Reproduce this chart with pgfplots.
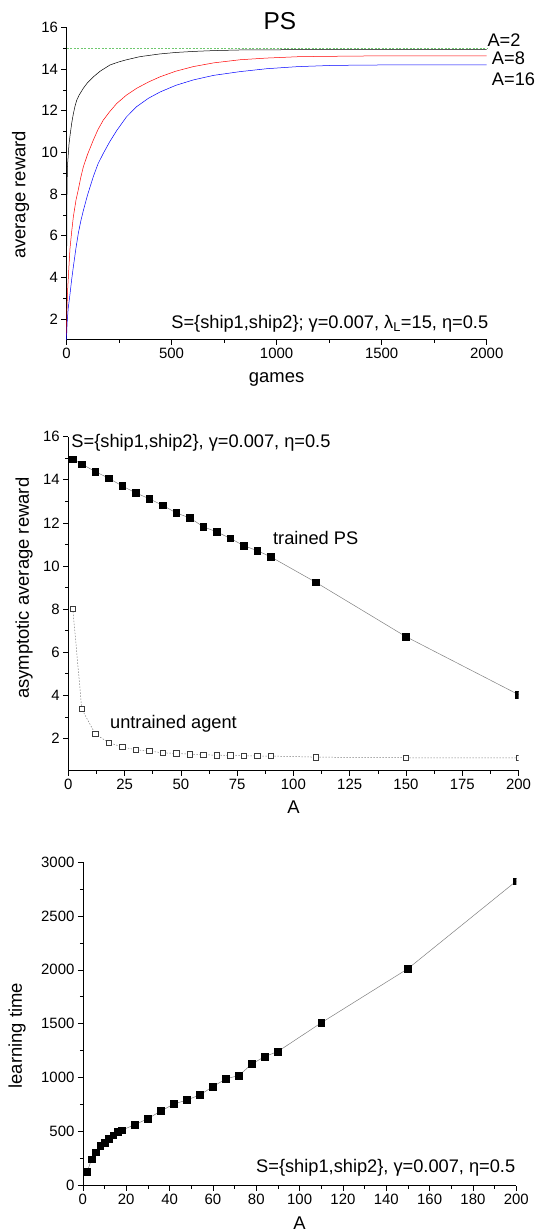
\documentclass[border=0pt]{standalone}
\usepackage{fontspec}
\setmainfont{Liberation Sans}
\usepackage{pgfplots}
\pgfplotsset{compat=1.18}

\definecolor{refgreen}{RGB}{110,200,110}
\definecolor{linegray}{RGB}{128,128,128}
\definecolor{edgegray}{RGB}{60,60,60}

\newcommand\annot{\fontsize{18.3}{22}\selectfont}

\pgfplotsset{
  panel/.style={
    scale only axis,
    anchor=south west,
    axis x line*=bottom, axis y line*=left,
    axis line style={-, line width=0.6bp, black},
    tick align=outside,
    major tick length=5bp, minor tick length=3bp,
    every tick/.append style={black, line width=0.6bp},
    minor tick num=1,
    tick label style={font=\fontsize{15}{18}\selectfont},
    label style={font=\fontsize{18.5}{22}\selectfont},
    scaled ticks=false,
    /pgf/number format/assume math mode=true,
    /pgf/number format/1000 sep={},
  },
}

\begin{document}
\begin{tikzpicture}
\path[use as bounding box] (0,0) rectangle (540bp,1232bp);

% ---------- learning curves ----------
\begin{axis}[panel, at={(66.5bp,892.2bp)}, width=420.2bp, height=312.3bp,
  xmin=0, xmax=2000, ymin=1, ymax=16,
  xtick={0,500,...,2000}, ytick={2,4,...,16},
  xlabel={games}, ylabel={average reward},
  xlabel style={at={(axis description cs:0.5,-0.128)}, anchor=center},
  ylabel style={at={(axis description cs:-0.109,0.464)}, anchor=center},
  clip=false]
\addplot[refgreen, line width=0.5bp, dash pattern=on 2bp off 1.5bp] coordinates {(0,15) (2000,15)};
\addplot[black, line width=0.5bp] coordinates {
 (0,1.0) (1,5.0) (2,7.6) (3,8.6) (5,9.4) (8.7,9.95) (12,10.4) (16.7,10.8)
 (24.7,11.4) (32.5,11.85) (40,12.2) (48.5,12.5) (60,12.75) (80,13.08)
 (100,13.35) (128,13.63) (160,13.9) (207,14.2) (250,14.35) (286,14.45)
 (350,14.6) (445,14.73) (520,14.8) (603,14.85) (700,14.89) (826,14.92)
 (1000,14.93) (1300,14.94) (1600,14.94) (2000,14.94)};
\addplot[red, line width=0.5bp] coordinates {
 (0,1.2) (2,2.4) (5,3.3) (8.7,4.0) (16.7,5.4) (24.7,6.2) (32.5,6.9) (45,7.7)
 (56,8.2) (68,8.8) (80,9.3) (100,9.9) (128,10.6) (150,11.1) (175,11.55)
 (205,11.95) (239,12.35) (285,12.75) (334,13.08) (390,13.38) (445,13.63)
 (520,13.9) (603,14.12) (700,14.3) (826,14.45) (950,14.53) (1111,14.6)
 (1400,14.63) (1700,14.64) (2000,14.64)};
\addplot[blue, line width=0.5bp] coordinates {
 (0,1.0) (3,1.8) (8,2.5) (16.7,3.2) (24.7,3.9) (32.5,4.5) (45,5.4) (56,6.1)
 (68,6.7) (80,7.2) (100,7.95) (128,8.85) (150,9.45) (175,9.95) (205,10.5)
 (239,11.05) (285,11.7) (334,12.2) (390,12.6) (445,12.9) (520,13.22)
 (603,13.48) (700,13.7) (826,13.88) (953,14.02) (1100,14.12) (1270,14.18)
 (1500,14.2) (2000,14.2)};
\node[anchor=base, inner sep=0, font=\fontsize{24.5}{28}\selectfont] at (axis cs:1016,15.91) {PS};
\node[anchor=west, inner sep=0, font=\annot] at (axis cs:2003,15.41) {A=2};
\node[anchor=west, inner sep=0, font=\annot] at (axis cs:2024,14.52) {A=8};
\node[anchor=west, inner sep=0, font=\annot] at (axis cs:2024,13.5) {A=16};
\node[anchor=base east, inner sep=0, font=\annot] at (axis cs:2008,1.54)
  {S=\{ship1,ship2\}; γ=0.007, λ\textsubscript{L}=15, η=0.5};
\end{axis}

% ---------- asymptotic reward ----------
\begin{axis}[panel, at={(68.3bp,461.3bp)}, width=450.2bp, height=334bp,
  xmin=0, xmax=200, ymin=0.5, ymax=16,
  xtick={0,25,...,200}, ytick={2,4,...,16},
  xlabel={A}, ylabel={asymptotic average reward},
  xlabel style={at={(axis description cs:0.5,-0.108)}, anchor=center},
  ylabel style={at={(axis description cs:-0.098,0.546)}, anchor=center},
  clip mode=individual, clip marker paths=true]
\addplot[linegray, line width=0.5bp, mark=square*,
  mark options={solid, fill=black, draw=black, mark size=3.3bp}] coordinates {
 (2,14.95) (6,14.73) (12,14.38) (18,14.07) (24,13.71) (30,13.39) (36,13.12)
 (42,12.81) (48,12.46) (54,12.23) (60,11.82) (66,11.58) (72,11.28) (78,10.94)
 (84,10.71) (90,10.42) (110,9.24) (150,6.72) (200,4.03)};
\addplot[linegray, line width=0.5bp, dash pattern=on 1.5bp off 1.5bp, mark=square*,
  mark options={solid, fill=white, draw=edgegray, line width=0.6bp, mark size=2.7bp}] coordinates {
 (2,8.02) (6,3.36) (12,2.20) (18,1.80) (24,1.60) (30,1.47) (36,1.41) (42,1.33)
 (48,1.30) (54,1.27) (60,1.24) (66,1.22) (72,1.21) (78,1.19) (84,1.18)
 (90,1.18) (110,1.13) (150,1.10) (200,1.09)};
\node[anchor=base west, inner sep=0, font=\annot] at (axis cs:1.33,15.51)
  {S=\{ship1,ship2\}, γ=0.007, η=0.5};
\node[anchor=base west, inner sep=0, font=\annot] at (axis cs:90.9,11.02) {trained PS};
\node[anchor=base west, inner sep=0, font=\annot] at (axis cs:18.5,2.47) {untrained agent};
\end{axis}

% ---------- learning time ----------
\begin{axis}[panel, at={(82.9bp,46.5bp)}, width=433.4bp, height=323.5bp,
  xmin=0, xmax=200, ymin=0, ymax=3000,
  xtick={0,20,...,200}, ytick={0,500,...,3000},
  xlabel={A}, ylabel={learning time},
  xlabel style={at={(axis description cs:0.5,-0.116)}, anchor=center},
  ylabel style={at={(axis description cs:-0.152,0.463)}, anchor=center},
  clip mode=individual, clip marker paths=true]
\addplot[linegray, line width=0.5bp, mark=square*,
  mark options={solid, fill=black, draw=black, mark size=3.3bp}] coordinates {
 (2,130) (4,242) (6,310) (8,366) (10,397) (12,434) (14,465) (16,496) (18,514)
 (24,564) (30,620) (36,691) (42,756) (48,793) (54,840) (60,917) (66,989)
 (72,1020) (78,1128) (84,1196) (90,1243) (110,1509) (150,2011) (200,2823)};
\node[anchor=base east, inner sep=0, font=\annot] at (axis cs:199.6,119)
  {S=\{ship1,ship2\}, γ=0.007, η=0.5};
\end{axis}
\end{tikzpicture}
\end{document}
